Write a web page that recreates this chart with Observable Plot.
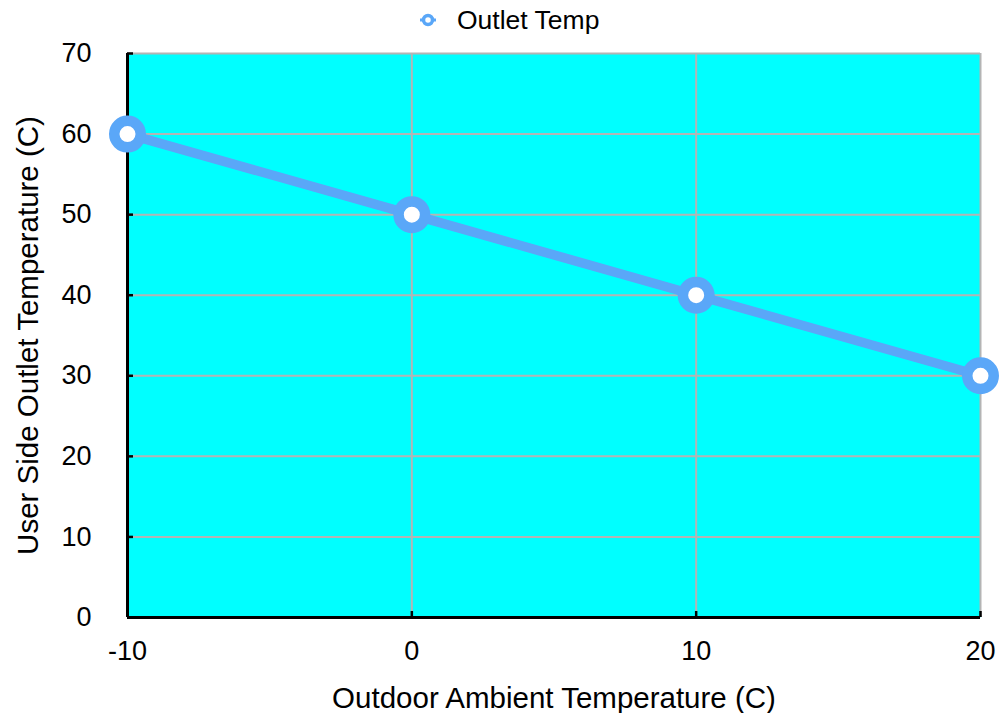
<!DOCTYPE html>
<html><head><meta charset="utf-8">
<script src="https://cdn.jsdelivr.net/npm/d3@7"></script>
<script src="https://cdn.jsdelivr.net/npm/@observablehq/plot@0.6"></script>
<style>
body{margin:0;background:#fff;font-family:"Liberation Sans",Arial,Helvetica,sans-serif;}
#legend{position:relative;height:40px;width:1000px;}
#legend svg{position:absolute;left:418px;top:12px;}
#legend span{position:absolute;left:457px;top:5px;font-size:26.5px;line-height:30px;color:#000;}
#chart svg{display:block;}
</style></head><body>
<div id="legend"></div>
<div id="chart"></div>
<script>
const ambient = [-10, 0, 10, 20];
const outletTemp = [60, 50, 40, 30];
const xTicks = [-10, 0, 10, 20];
const yTicks = [0, 10, 20, 30, 40, 50, 60, 70];
const seriesName = "Outlet Temp";
const xTitle = "Outdoor Ambient Temperature (C)";
const yTitle = "User Side Outlet Temperature (C)";

const data = ambient.map((x, i) => ({x, y: outletTemp[i]}));
const blue = "#5aa7f8";
const grid = "#b4b4b4";
const font = '"Liberation Sans", Arial, Helvetica, sans-serif';

document.getElementById("legend").innerHTML =
  `<svg width="20" height="16"><line x1="2" x2="18" y1="8" y2="8" stroke="${blue}" stroke-width="3"/>` +
  `<circle cx="10" cy="8" r="4.5" fill="#fff" stroke="${blue}" stroke-width="3.5"/></svg>` +
  `<span>${seriesName}</span>`;

const chart = Plot.plot({
  width: 1000,
  height: 673,
  marginTop: 13,
  marginBottom: 96,
  marginLeft: 127,
  marginRight: 20,
  x: {domain: [-10, 20]},
  y: {domain: [0, 70]},
  style: {fontFamily: font, fontSize: "27px", color: "#000", background: "#fff", overflow: "visible"},
  marks: [
    Plot.frame({fill: "#00ffff", stroke: null}),
    Plot.gridX(xTicks, {stroke: grid, strokeOpacity: 1, strokeWidth: 2}),
    Plot.gridY(yTicks, {stroke: grid, strokeOpacity: 1, strokeWidth: 2}),
    Plot.axisX(xTicks, {tickSize: 0, tickPadding: 23, fontSize: 27, label: null, tickFormat: d => String(d)}),
    Plot.axisY(yTicks, {tickSize: 0, tickPadding: 36, fontSize: 27, label: null, tickFormat: d => String(d)}),
    Plot.axisY(yTicks, {tickSize: -6, strokeWidth: 2.5, label: null, tickFormat: () => ""}),
    Plot.axisX(xTicks, {tickSize: -6, strokeWidth: 2.5, label: null, tickFormat: () => ""}),
    Plot.ruleY([0], {stroke: "#000", strokeWidth: 3}),
    Plot.ruleX([-10], {stroke: "#000", strokeWidth: 3}),
    Plot.line(data, {x: "x", y: "y", stroke: blue, strokeWidth: 9.5}),
    Plot.dot(data, {x: "x", y: "y", r: 13.25, fill: "#fff", stroke: blue, strokeWidth: 10.5}),
    Plot.text([xTitle], {frameAnchor: "bottom", dy: 81, lineAnchor: "middle", fontSize: 29.5, fill: "#000"}),
    Plot.text([yTitle], {frameAnchor: "left", dx: -99, rotate: -90, textAnchor: "middle", fontSize: 29.5, fill: "#000"})
  ]
});
document.getElementById("chart").appendChild(chart);
</script>
</body></html>
